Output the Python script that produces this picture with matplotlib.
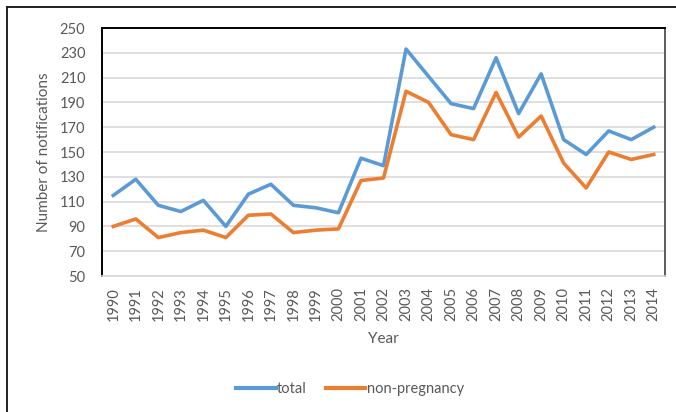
import matplotlib
import matplotlib.pyplot as plt
from matplotlib.lines import Line2D

matplotlib.use("Agg")

years = [str(y) for y in range(1990, 2015)]
total = [115, 128, 107, 102, 111, 90, 116, 124, 107, 105, 101, 145, 139,
         233, 211, 189, 185, 226, 181, 213, 160, 148, 167, 160, 170]
non_pregnancy = [90, 96, 81, 85, 87, 81, 99, 100, 85, 87, 88, 127, 129,
                 199, 190, 164, 160, 198, 162, 179, 141, 121, 150, 144, 148]
y_ticks = list(range(50, 251, 20))

plt.rcParams["font.family"] = ["Lato", "DejaVu Sans"]
text_grey = "#595959"

fig = plt.figure(figsize=(6.76, 4.12), dpi=100)
ax = fig.add_axes([102 / 676, 1 - 276 / 412, 563 / 676, 248 / 412])

x = list(range(len(years)))
ax.plot(x, total, color="#5B9BD5", lw=2.6, label="total", solid_joinstyle="round")
ax.plot(x, non_pregnancy, color="#ED7D31", lw=2.6, label="non-pregnancy",
        solid_joinstyle="round")

ax.set_xlim(-0.5, len(years) - 0.5)
ax.set_ylim(50, 250)
ax.set_yticks(y_ticks)
ax.set_xticks(x)
ax.set_xticklabels(years, rotation=90)
ax.tick_params(axis="both", length=0, labelsize=10.5, colors=text_grey)
ax.tick_params(axis="y", pad=12)
ax.tick_params(axis="x", pad=8)
ax.grid(axis="y", color="#D9D9D9", lw=1.2)
ax.set_axisbelow(True)

for side in ["top", "left"]:
    ax.spines[side].set_color("black")
    ax.spines[side].set_linewidth(1.4)
ax.spines["right"].set_color("#404040")
ax.spines["right"].set_linewidth(1.2)
ax.spines["bottom"].set_color("#D9D9D9")
ax.spines["bottom"].set_linewidth(1.2)

ax.set_ylabel("Number of notifications", fontsize=11, color=text_grey, labelpad=6)
ax.set_xlabel("Year", fontsize=11, color=text_grey, labelpad=8)

handles = [Line2D([0], [0], color="#5B9BD5", lw=3),
           Line2D([0], [0], color="#ED7D31", lw=3)]
leg = fig.legend(handles, ["total", "non-pregnancy"], loc="center",
                 bbox_to_anchor=(350 / 676, 1 - 389 / 412), ncol=2,
                 frameon=False, fontsize=10.5, handlelength=2.7,
                 handletextpad=0.1, columnspacing=1.3)
for t in leg.get_texts():
    t.set_color(text_grey)

# outer chart frame
fig.add_artist(Line2D([7 / 676, 7 / 676], [0, 1 - 7 / 412],
                      transform=fig.transFigure, color="#202020", lw=1.4))
fig.add_artist(Line2D([7 / 676, 1], [1 - 7 / 412, 1 - 7 / 412],
                      transform=fig.transFigure, color="#202020", lw=1.4))

fig.savefig("out.png", dpi=100)
